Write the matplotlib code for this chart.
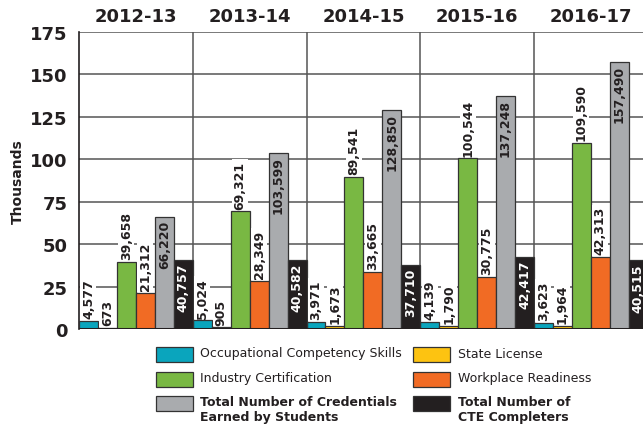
import matplotlib
matplotlib.use("Agg")
import matplotlib.pyplot as plt
from matplotlib.patches import Rectangle
from matplotlib.transforms import blended_transform_factory
import numpy as np

years = ["2012-13", "2013-14", "2014-15", "2015-16", "2016-17"]
series_names = [
    "Occupational Competency Skills",
    "State License",
    "Industry Certification",
    "Workplace Readiness",
    "Total Number of Credentials\nEarned by Students",
    "Total Number of\nCTE Completers",
]
occupational = [4577, 5024, 3971, 4139, 3623]
state_license = [673, 905, 1673, 1790, 1964]
industry_cert = [39658, 69321, 89541, 100544, 109590]
workplace = [21312, 28349, 33665, 30775, 42313]
total_credentials = [66220, 103599, 128850, 137248, 157490]
cte_completers = [40757, 40582, 37710, 42417, 40515]

series = [occupational, state_license, industry_cert, workplace, total_credentials, cte_completers]
colors = ["#0aa5bd", "#fdc311", "#79b843", "#f16b24", "#a9abae", "#231f20"]

W, H = 643, 431
fig = plt.figure(figsize=(W / 100, H / 100), dpi=100)
ax = fig.add_axes([79 / W, 1 - 330 / H, (W - 79) / W, 297 / H])

n = len(series)
bw = 1 / n
x = np.arange(len(years))

for k, (vals, col) in enumerate(zip(series, colors)):
    v = np.array(vals) / 1000
    pos = x + (k + 0.5) * bw
    ax.bar(pos, v, bw, color=col, edgecolor="#333333", linewidth=0.9, zorder=3)
    for px, val, raw in zip(pos, v, vals):
        lab = f"{raw:,}"
        if k >= 4:
            # totals: label sits inside the top of the bar
            ax.annotate(lab, (px, val), xytext=(0, -2), textcoords="offset points",
                        rotation=90, ha="center", va="top", fontsize=9,
                        fontweight="bold", color="white" if k == 5 else "#231f20",
                        zorder=5)
        else:
            ax.annotate(lab, (px, val), xytext=(0, 2), textcoords="offset points",
                        rotation=90, ha="center", va="bottom", fontsize=9,
                        fontweight="bold", color="#231f20", zorder=5,
                        bbox=dict(boxstyle="square,pad=0.12", fc="white", ec="none"))

ax.set_xlim(0, (W - 79) / 113.75)
ax.set_ylim(0, 175)
ax.set_yticks(np.arange(0, 176, 25))
ax.set_yticklabels([str(t) for t in range(0, 176, 25)], fontsize=13, fontweight="bold", color="#231f20")
ax.tick_params(axis="y", length=0, pad=8)
ax.set_xticks([])
ax.set_ylabel("Thousands", fontsize=10, fontweight="bold", color="#231f20", labelpad=4)

for t in range(25, 176, 25):
    ax.axhline(t, color="#555555", linewidth=1.1, zorder=1)
for i in range(1, len(years) + 1):
    ax.axvline(i, color="#555555", linewidth=1.1, zorder=1)
ax.axhline(0, color="#231f20", linewidth=2.2, zorder=4)

for s in ["top", "right", "bottom"]:
    ax.spines[s].set_visible(False)
ax.spines["left"].set_color("#231f20")
ax.spines["left"].set_linewidth(1.2)

trans = blended_transform_factory(ax.transData, ax.transAxes)
for i, yr in enumerate(years):
    ax.text(i + 0.5, 1.0 + 7 / 297, yr, transform=trans, ha="center", va="bottom",
            fontsize=13, fontweight="bold", color="#231f20")

# legend, drawn in figure pixels
rows = [355.5, 380, 404.5]
cols = [(156, 200), (413, 458)]
order = [(0, 0, 0), (1, 1, 0), (2, 0, 1), (3, 1, 1), (4, 0, 2), (5, 1, 2)]
for k, c, r in order:
    px, tx = cols[c]
    cy = rows[r]
    fig.add_artist(Rectangle((px / W, 1 - (cy + 7.5) / H), 37 / W, 15 / H,
                             transform=fig.transFigure, facecolor=colors[k],
                             edgecolor="#333333", linewidth=0.9))
    fig.text(tx / W, 1 - (cy - 8) / H, series_names[k], ha="left", va="top",
             fontsize=9, fontweight="bold" if k >= 4 else "normal",
             color="#231f20", linespacing=1.15)

fig.savefig("out.png", dpi=100)
